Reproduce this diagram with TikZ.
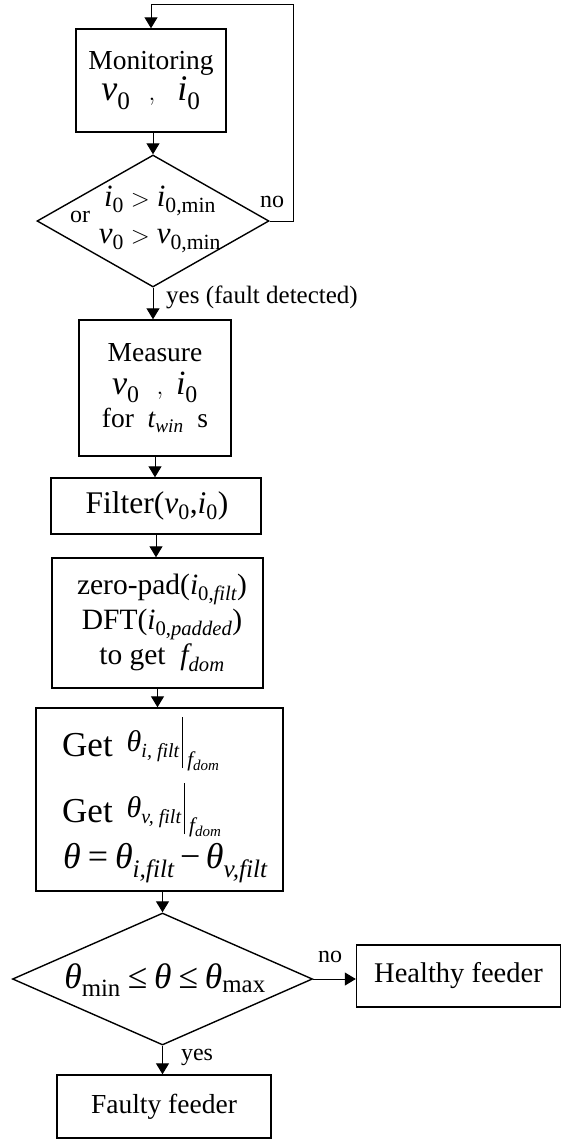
\documentclass[tikz,border=0pt]{standalone}
\usepackage{fontspec}
\usepackage{amsmath}
\setmainfont{Liberation Serif}
\usetikzlibrary{shapes.geometric,arrows.meta}
\newcommand{\itx}[1]{\text{\itshape #1}}
\newcommand{\rmx}[1]{\text{\upshape #1}}
\newcommand{\evbar}[3]{\raisebox{5pt}{\fontsize{30}{32}\selectfont\itshape #1\raisebox{-6pt}{\fontsize{20}{20}\selectfont #2}}\hspace{3pt}\rule[-12pt]{1.1pt}{51pt}\hspace{4pt}\raisebox{-10pt}{\fontsize{21}{21}\selectfont\itshape f\raisebox{-4pt}{\fontsize{15}{15}\selectfont #3}}}
\begin{document}
\begin{tikzpicture}[x=1pt,y=-1pt,
  box/.style={draw,line width=1.4pt,rectangle,inner sep=0pt,align=center,font=\fontsize{27.5}{33}\selectfont},
  dia/.style={draw,line width=1.4pt,diamond,inner sep=0pt},
  conn/.style={line width=1pt,-{Triangle[length=11pt,width=13pt]}},
  lab/.style={font=\fontsize{24}{28}\selectfont,inner sep=0pt},
  txt/.style={inner sep=0pt,align=center}]
\fill[white] (0,0) rectangle (562,1140);
\useasboundingbox (0,0) rectangle (562,1140);

% Monitoring
\node[box,minimum width=150pt,minimum height=103pt] (mon) at (151,80.5)
  {Monitoring\\[-2pt]{\fontsize{36}{36}\selectfont$\itx{v}_{\rmx{0}}\ \ ,\ \ \itx{i}_{\rmx{0}}$}};

% Decision 1
\node[dia,minimum width=232pt,minimum height=132pt] (d1) at (153,221) {};
\node[txt,font=\fontsize{31}{37}\selectfont] (d1t) at (160,219)
  {$\itx{i}_{\rmx{0}} > \itx{i}_{\rmx{0,min}}$\\$\itx{v}_{\rmx{0}} > \itx{v}_{\rmx{0,min}}$};
\node[lab] (orl) at (80,217) {or};
\node[lab] (no1) at (272,202) {no};
\coordinate (lp) at (293,5);

% Measure
\node[box,minimum width=152pt,minimum height=136pt] (meas) at (155,388)
  {Measure\\{\fontsize{34}{33}\selectfont$\itx{v}_{\rmx{0}}\ \ ,\ \itx{i}_{\rmx{0}}$}\\for \ $\itx{t}_{\itx{win}}$ \ s};
\node[lab,anchor=west,font=\fontsize{25}{28}\selectfont] (yl1) at (166,297) {yes (fault detected)};

% Filter
\node[box,minimum width=210pt,minimum height=56pt] (filt) at (156,506) {};
\node[txt,font=\fontsize{31.5}{36}\selectfont] (filtt) at (157,506)
  {Filter($\itx{v}_{\rmx{0}}$,$\itx{i}_{\rmx{0}}$)};

% zero-pad / DFT
\node[box,minimum width=211pt,minimum height=130pt] (zp) at (157.5,623) {};
\node[txt,font=\fontsize{29.5}{35}\selectfont] (zpt) at (162,623)
  {zero-pad($\itx{i}_{\rmx{0,}\itx{filt}}$)\\DFT($\itx{i}_{\rmx{0,}\itx{padded}}$)\\to get \ $\itx{f}_{\itx{dom}}$};

% Get angles
\node[box,minimum width=247pt,minimum height=183pt] (get) at (159.5,799.5) {};
\node[anchor=base west,inner sep=0pt,font=\fontsize{35}{40}\selectfont] (g1) at (62,756)
  {Get\hspace{14pt}\evbar{θ}{i, filt}{dom}};
\node[anchor=base west,inner sep=0pt,font=\fontsize{35}{40}\selectfont] (g2) at (62,822)
  {Get\hspace{14pt}\evbar{θ}{v, filt}{dom}};
\node[anchor=base west,inner sep=0pt,font=\fontsize{36}{40}\selectfont] (g3) at (63,868)
  {$\itx{θ} \mathrel{\rmx{=}} \itx{θ}_{\itx{i,filt}} \mathbin{\rmx{−}} \itx{θ}_{\itx{v,filt}}$};

% Decision 2
\node[dia,minimum width=300pt,minimum height=132pt] (d2) at (162.5,979) {};
\node[txt,font=\fontsize{35.5}{40}\selectfont] (d2t) at (165,980)
  {$\itx{θ}_{\rmx{min}} \mathrel{\rmx{≤}} \itx{θ} \mathrel{\rmx{≤}} \itx{θ}_{\rmx{max}}$};

% Outcomes
\node[box,minimum width=204pt,minimum height=62pt,font=\fontsize{28.5}{33}\selectfont] (hf) at (458.5,976) {Healthy feeder};
\node[box,minimum width=214pt,minimum height=63pt] (ff) at (164,1106.5) {Faulty feeder};
\node[lab] (no2) at (330,957) {no};
\node[lab] (yl2) at (197,1057) {yes};

% Connectors
\draw[conn] (d1.east) -| (lp) -| (mon.north);
\draw[conn] (d1.north |- mon.south) -- (d1.north);
\draw[conn] (d1.south) -- (d1.south |- meas.north);
\draw[conn] (meas.south) -- (meas.south |- filt.north);
\draw[conn] (filt.south) -- (filt.south |- zp.north);
\draw[conn] (zp.south) -- (zp.south |- get.north);
\draw[conn] (d2.north |- get.south) -- (d2.north);
\draw[conn] (d2.east) -- (d2.east -| hf.west);
\draw[conn] (d2.south) -- (d2.south |- ff.north);
\end{tikzpicture}
\end{document}
